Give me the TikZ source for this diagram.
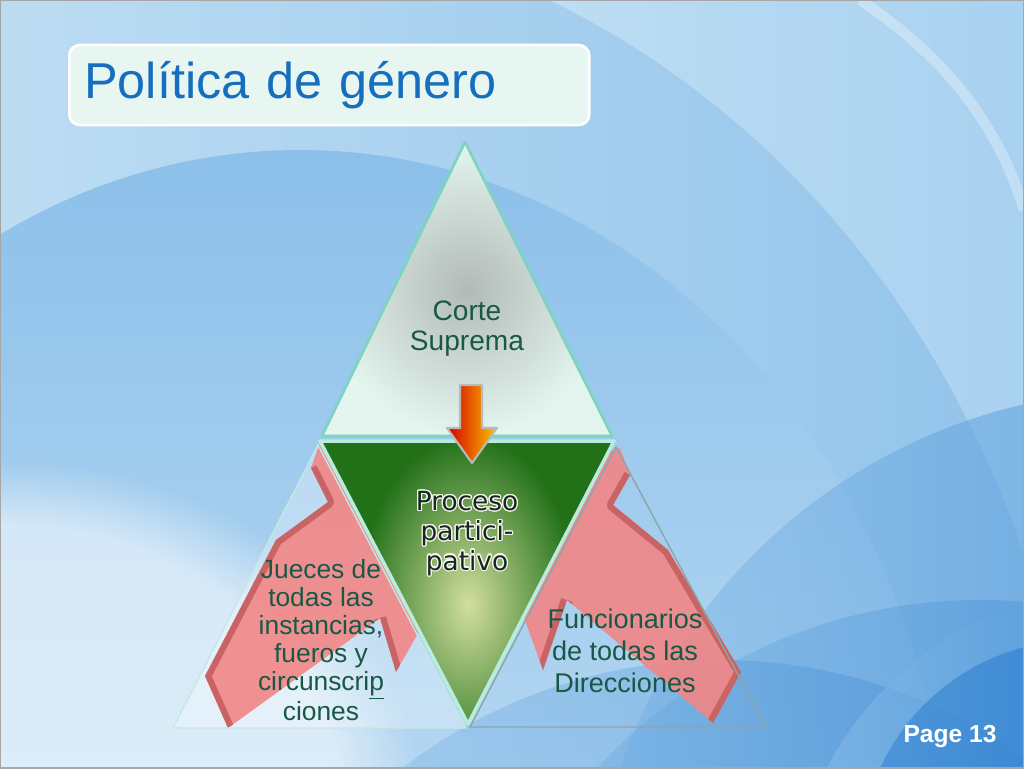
\documentclass[tikz,border=0pt]{standalone}
\usepackage{fontspec}
\setmainfont{Liberation Sans}
\newfontfamily\procfont{DejaVu Sans}
\usepackage[copies]{contour}
\usepackage{xcolor}
\usetikzlibrary{fadings}
\definecolor{bgpale}{RGB}{212,235,248}
\definecolor{bgmid}{RGB}{140,192,234}
\definecolor{bgdeep}{RGB}{20,110,200}
\definecolor{mint}{RGB}{228,245,239}
\definecolor{mintline}{RGB}{125,212,192}
\definecolor{leafgreen}{RGB}{34,112,24}
\definecolor{leaflight}{RGB}{210,222,160}
\definecolor{rosa}{RGB}{242,134,134}
\definecolor{rosadark}{RGB}{198,96,96}
\definecolor{textgreen}{RGB}{26,88,70}
\definecolor{titleblue}{RGB}{22,110,190}
\definecolor{inkdark}{RGB}{22,38,38}
\contourlength{0.7pt}

\begin{document}
\begin{tikzpicture}[x=0.02cm,y=-0.02cm,%
	tlabel/.style={align=center,text=textgreen},
	plabel/.style={align=center,text=inkdark,font=\procfont\fontsize{15}{17}\selectfont},
	arrowfill/.style={fill=rosa,opacity=0.9},
	arrowedge/.style={draw=rosadark,line width=7pt,line join=round,opacity=0.9},
	sideline/.style={line width=0.8pt,line join=round}]
\useasboundingbox (0,0) rectangle (1024,768);
\shade[left color=bgpale,right color=bgmid!60!bgpale] (0,0) rectangle (1024,768);
\begin{scope}
	\clip (0,0) rectangle (1024,768);
	\shade[left color=bgpale,right color=bgmid,opacity=0.85] (200,900) ellipse [x radius=880,y radius=980];
	\shade[top color=bgmid,bottom color=bgpale!50!white] (300,900) ellipse [x radius=650,y radius=750];
	\shade[left color=bgmid,right color=bgdeep,opacity=0.55] (1150,950) circle (560);
	\shade[left color=bgmid,right color=bgdeep,opacity=0.45] (980,1120) circle (520);
	\shade[left color=bgmid,right color=bgdeep,opacity=0.35] (720,1180) circle (520);
	\shade[left color=bgmid,right color=bgdeep,opacity=0.6] (1120,920) circle (330);
	\shade[left color=bgdeep!70!bgmid,right color=bgdeep,opacity=0.6] (1080,860) circle (220);
	\fill[white,opacity=0.55,path fading=circle with fuzzy edge 20 percent] (0,800) ellipse [x radius=420,y radius=340];
	\draw[white,opacity=0.3,line width=6pt] (860,0) .. controls (950,60) and (1000,130) .. (1024,210);
\end{scope}
\draw[gray!70,line width=0.8pt] (0,0) rectangle (1024,768);

\node[draw=white,line width=1.5pt,fill=mint!85!white,rounded corners=6pt,anchor=west,
	minimum width=10.4cm,minimum height=1.6cm,inner xsep=0.3cm,text width=9.8cm,align=left,
	font=\fontsize{28.7}{34}\selectfont,text=titleblue] (title) at (68,85) {Política de género};

\coordinate (lapex) at (318,445);
\coordinate (lleft) at (173,728);
\coordinate (lright) at (466,728);
\coordinate (rapex) at (616,447);
\coordinate (rleft) at (470,727);
\coordinate (rright) at (766,727);
\fill[white,opacity=0.3] (lapex) -- (lleft) -- (lright) -- cycle;

\begin{scope}
	\clip (320,443) -- (350,485) -- (420,630) -- (396,672) -- (380,618) -- (228,728) -- (205,676) -- (276,540) -- (328,502) -- (311,468) -- cycle;
	\fill[arrowfill] (190,430) rectangle (440,740);
	\draw[arrowedge] (311,468) -- (328,502) -- (276,540) -- (205,676) -- (228,728);
	\draw[arrowedge] (380,618) -- (396,672);
\end{scope}
\begin{scope}
	\clip (620,448) -- (630,475) -- (613,505) -- (668,550) -- (741,672) -- (713,723) -- (567,600) -- (543,670) -- (522,612) -- (600,455) -- cycle;
	\fill[arrowfill] (510,440) rectangle (760,740);
	\draw[arrowedge] (630,475) -- (613,505) -- (668,550) -- (741,672) -- (713,723);
	\draw[arrowedge] (567,600) -- (543,670);
\end{scope}

\draw[sideline,draw={rgb,255:red,196;green,232;blue,226}] (lapex) -- (lleft) -- (lright) -- cycle;
\draw[sideline,draw={rgb,255:red,140;green,166;blue,166}] (rapex) -- (rleft) -- (rright) -- cycle;

\coordinate (tapex) at (465,142);
\coordinate (tleft) at (322,436);
\coordinate (tright) at (612,436);
\shade[inner color=gray!50!mint,outer color=mint] (tapex) -- (tleft) -- (tright) -- cycle;
\draw[mintline,line width=1.5pt,line join=round] (tapex) -- (tleft) -- (tright) -- cycle;

\coordinate (gleft) at (320,441);
\coordinate (gright) at (614,441);
\coordinate (gbottom) at (468,724);
\fill[leafgreen] (gleft) -- (gright) -- (gbottom) -- cycle;
\begin{scope}
	\clip (gleft) -- (gright) -- (gbottom) -- cycle;
	\shade[inner color=leaflight,outer color=leafgreen] (468,605) ellipse [x radius=110,y radius=170];
\end{scope}
\draw[draw={rgb,255:red,184;green,236;blue,222},line width=2pt,line join=round] (gleft) -- (gright) -- (gbottom) -- cycle;

\shade[left color={rgb,255:red,210;green,0;blue,0},middle color={rgb,255:red,255;green,80;blue,0},right color={rgb,255:red,255;green,196;blue,0},draw=gray!55,line width=1.2pt,line join=round]
	(460,385) -- (482,385) -- (482,428) -- (497,428) -- (472,463) -- (447,428) -- (460,428) -- cycle;

\node[tlabel,font=\fontsize{16}{17}\selectfont] (corte) at (467,329) {Corte\\Suprema};
\node[plabel] (proceso) at (467,534) {\contour{white!75!leaflight}{Proceso}\\\contour{white!75!leaflight}{partici-}\\\contour{white!75!leaflight}{pativo}};
\node[tlabel,font=\fontsize{15}{15.9}\selectfont] (jueces) at (321,640) {Jueces de\\todas las\\instancias,\\fueros y\\circunscri\underline{p}\\ciones};
\node[tlabel,font=\fontsize{15.4}{18.1}\selectfont] (funcionarios) at (625,651) {Funcionarios\\de todas las\\Direcciones};
\node[text=white,font=\bfseries\fontsize{14}{16}\selectfont] (page) at (950,737) {Page 13};
\end{tikzpicture}
\end{document}
